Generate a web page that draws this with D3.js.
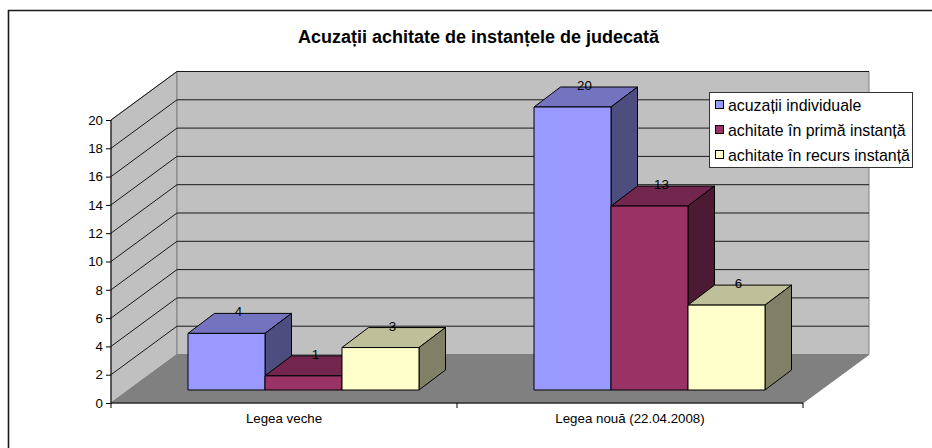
<!DOCTYPE html>
<html><head><meta charset="utf-8">
<script src="https://cdn.jsdelivr.net/npm/d3@7"></script>
<style>html,body{margin:0;padding:0;background:#fff}svg{display:block}text{font-family:"Liberation Sans",Arial,sans-serif;fill:#000}</style>
</head><body><svg id="c" width="932" height="448"></svg>
<script>
const title = "Acuzații achitate de instanțele de judecată";
const categories = ["Legea veche", "Legea nouă (22.04.2008)"];
const seriesNames = ["acuzații individuale", "achitate în primă instanță", "achitate în recurs instanță"];
const seriesValues = [[4, 20], [1, 13], [3, 6]];
const yTicks = [0,2,4,6,8,10,12,14,16,18,20];
const frontColors = ["#9999ff", "#993366", "#ffffcc"];
const topColors = ["#7373bf", "#73264d", "#bfbf99"];
const sideColors = ["#4d4d80", "#4d1a33", "#808066"];

const svg = d3.select("#c");
const x0 = 111, x1 = 803, yB = 403, yT = 120, dx = 66, dy = -48.5;
const y = d3.scaleLinear().domain([0,20]).range([yB, yT]);
const xc = d3.scaleBand().domain(categories).range([x0, x1]);
const xs = d3.scaleBand().domain(d3.range(3)).range([59.5, 290.5]);
const barOff = [17.5, -13], depth = [26.5, -20];
const pts = a => a.map(p => p.join(",")).join(" ");

// frame: only top and left edges are visible
svg.append("path").attr("d","M8.5,448V10.5H932").attr("fill","none").attr("stroke","#1a1a1a").attr("stroke-width",1.6);
svg.append("text").attr("x",478.5).attr("y",43).attr("text-anchor","middle").attr("font-size",18).attr("font-weight","bold").text(title);

// walls & floor
svg.append("polygon").attr("points",pts([[x0,yB],[x0+dx,yB+dy],[x0+dx,yT+dy],[x0,yT]])).attr("fill","#c0c0c0").attr("stroke","#808080");
svg.append("polygon").attr("points",pts([[x0+dx,yB+dy],[x1+dx,yB+dy],[x1+dx,yT+dy],[x0+dx,yT+dy]])).attr("fill","#c0c0c0").attr("stroke","#808080");
svg.append("polygon").attr("points",pts([[x0,yB],[x1,yB],[x1+dx,yB+dy],[x0+dx,yB+dy]])).attr("fill","#808080").attr("stroke","#808080");
const grid = svg.append("g").attr("fill","none").attr("stroke","#1a1a1a");
yTicks.filter(t=>t>0).forEach(t=>{
  grid.append("polyline").attr("points",pts([[x0,y(t)],[x0+dx,y(t)+dy],[x1+dx,y(t)+dy]]));
});
// axes
const yAxis = d3.axisLeft(y).tickValues(yTicks).tickSize(5).tickPadding(3);
const gy = svg.append("g").attr("transform",`translate(${x0},0)`).call(yAxis);
const xAxis = d3.axisBottom(xc).tickSize(0).tickPadding(11);
const gx = svg.append("g").attr("transform",`translate(0,${yB})`).call(xAxis);
[gy,gx].forEach(g=>{g.selectAll("text").attr("font-size",13.3).attr("font-family",'"Liberation Sans",Arial,sans-serif');g.selectAll("line,path").attr("stroke","#000");});
gy.select("path").attr("d",`M${0},${yB}V${yT}`);
gx.select("path").attr("d",`M${x0},0H${x1}`);
gx.selectAll(".sep").data(d3.range(3)).enter().append("line")
  .attr("x1",i=>x0+i*xc.bandwidth()).attr("x2",i=>x0+i*xc.bandwidth()).attr("y1",0).attr("y2",5).attr("stroke","#000");

// bars
seriesValues.forEach((vals,s)=>{
  const g = svg.append("g").attr("stroke","#000").attr("stroke-linejoin","round");
  vals.forEach((v,c)=>{
    const l = xc(categories[c]) + xs(s) + barOff[0], r = l + xs.bandwidth();
    const b = yB + barOff[1], t = y(v) + barOff[1];
    const [ddx,ddy] = depth;
    g.append("polygon").attr("points",pts([[l,t],[r,t],[r+ddx,t+ddy],[l+ddx,t+ddy]])).attr("fill",topColors[s]);
    g.append("polygon").attr("points",pts([[r,t],[r+ddx,t+ddy],[r+ddx,b+ddy],[r,b]])).attr("fill",sideColors[s]);
    g.append("rect").attr("x",l).attr("y",t).attr("width",r-l).attr("height",b-t).attr("fill",frontColors[s]);
  });
});
// value labels on top
seriesValues.forEach((vals,s)=>vals.forEach((v,c)=>{
  const l = xc(categories[c]) + xs(s) + barOff[0];
  svg.append("text").attr("x",l+xs.bandwidth()/2+12).attr("y",y(v)+barOff[1]-17).attr("text-anchor","middle").attr("font-size",13.3).attr("fill","#1a1a1a").text(v);
}));

// legend
const lg = svg.append("g").attr("transform","translate(709,92)");
lg.append("rect").attr("x",0.5).attr("y",0.5).attr("width",203).attr("height",75).attr("fill","#fff").attr("stroke","#333");
seriesNames.forEach((n,i)=>{
  const cy = 13 + i*25;
  lg.append("rect").attr("x",6.5).attr("y",cy-4.5).attr("width",8).attr("height",8).attr("fill",frontColors[i]).attr("stroke","#000");
  lg.append("text").attr("x",19).attr("y",cy+5.5).attr("font-size",15.9).text(n);
});
</script></body></html>
